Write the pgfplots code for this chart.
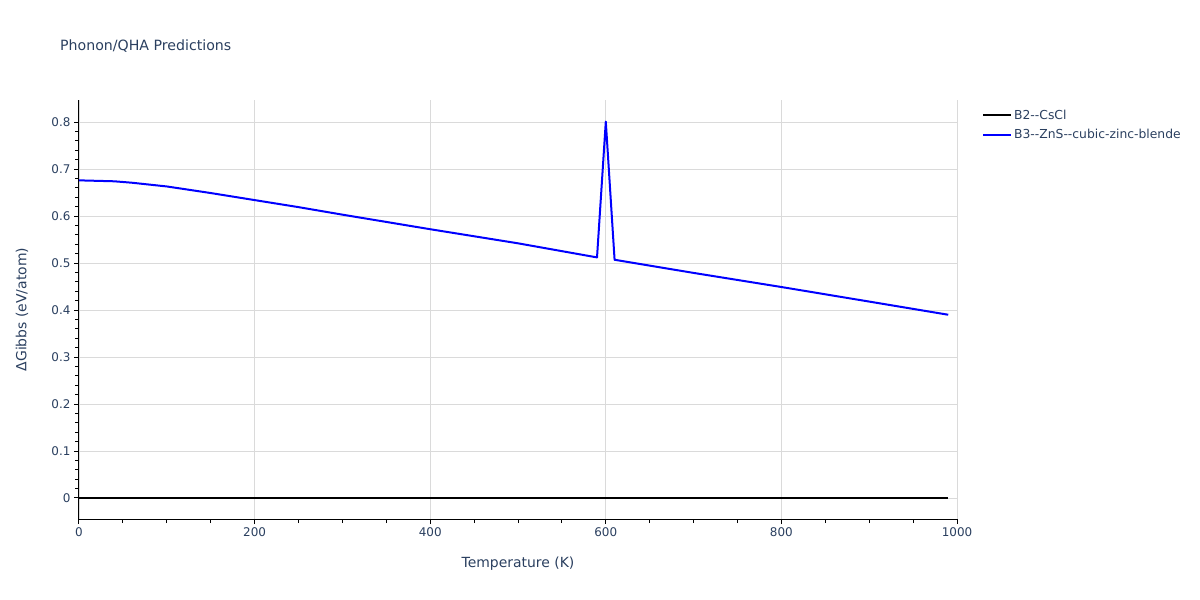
\documentclass[border=0pt]{standalone}
\usepackage{pgfplots}
\pgfplotsset{compat=1.18}
\usepackage{fontspec}
\setmainfont{DejaVu Sans}
\usetikzlibrary{calc}
\definecolor{plotlytext}{HTML}{2A3F5F}
\definecolor{gridgray}{HTML}{DADADA}

\begin{document}
\begin{tikzpicture}
  \begin{axis}[
      name=ax,
      scale only axis,
      width=878bp,
      height=419bp,
      xmin=0, xmax=1000,
      ymin=-0.0447, ymax=0.847,
      axis lines*=left,
      axis line style={black, line width=1bp},
      tick align=outside,
      tick style={black, line width=1bp},
      major tick length=5bp,
      minor tick length=4bp,
      xtick={0,200,...,1000},
      ytick={0,0.1,...,0.8},
      minor x tick num=3,
      minor y tick num=4,
      grid=major,
      major grid style={gridgray, line width=0.8bp},
      /pgf/number format/assume math mode=true,
      /pgf/number format/fixed,
      /pgf/number format/1000 sep={},
      ticklabel style={font=\fontsize{12}{14}\selectfont, text=plotlytext},
      scaled y ticks=false,
      xlabel={Temperature (K)},
      ylabel={ΔGibbs (eV/atom)},
      xlabel style={at={(axis description cs:0.5,-0.107)}, anchor=center,
                    font=\fontsize{14}{16}\selectfont, text=plotlytext},
      ylabel style={at={(axis description cs:-0.065,0.5)}, anchor=center,
                    font=\fontsize{14}{16}\selectfont, text=plotlytext},
      legend style={at={(axis description cs:1.025,0.987)}, anchor=north west,
                    draw=none, fill=none, font=\fontsize{12.4}{14}\selectfont,
                    text=plotlytext, row sep=4.6bp},
      legend cell align=left,
      legend image code/.code={\draw[#1] (0bp,0bp) -- (28bp,0bp);},
    ]
    \addplot[black, line width=2bp] coordinates {
      (0,0) (100,0) (200,0) (300,0) (400,0) (500,0)
      (600,0) (700,0) (800,0) (900,0) (990,0)
    };
    \addplot[blue, line width=2bp, line join=round] coordinates {
      (0,0.676) (20,0.675) (40,0.674) (60,0.671) (80,0.667)
      (100,0.663) (150,0.649) (200,0.634) (250,0.619) (300,0.603)
      (400,0.572) (500,0.542) (590,0.512) (600,0.801) (610,0.507)
      (700,0.479) (800,0.449) (900,0.418) (990,0.390)
    };
    \legend{B2{-}{-}CsCl, B3{-}{-}ZnS{-}{-}cubic-zinc-blende}
  \end{axis}
  \node[anchor=base west, inner xsep=0pt, font=\fontsize{14.2}{17}\selectfont, text=plotlytext]
    at ($(ax.south west)+(-19bp,468bp)$) {Phonon/QHA Predictions};
  \path[use as bounding box] ($(ax.south west)+(-79bp,-81bp)$) rectangle ++(1200bp,600bp);
\end{tikzpicture}
\end{document}
